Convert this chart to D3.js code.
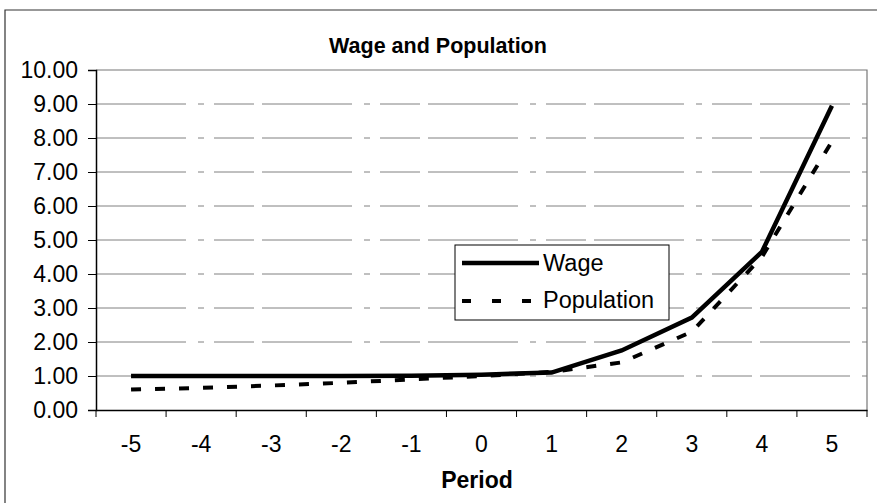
<!DOCTYPE html>
<html><head><meta charset="utf-8">
<script src="https://cdn.jsdelivr.net/npm/d3@7"></script>
<style>body{margin:0;background:#fff}svg{display:block;font-family:Arial,"Liberation Sans",sans-serif}</style>
</head><body><svg id="c" width="877" height="503"></svg>
<script>
const periods = [-5,-4,-3,-2,-1,0,1,2,3,4,5];
const wage = [1.00,1.00,1.00,1.00,1.01,1.04,1.10,1.75,2.72,4.65,8.95];
const population = [0.60,0.65,0.72,0.80,0.90,1.00,1.12,1.40,2.30,4.50,7.90];
const yTicks = [0,1,2,3,4,5,6,7,8,9,10];
const title = "Wage and Population";
const xTitle = "Period";
const legendLabels = ["Wage","Population"];

const svg = d3.select("#c");
const m = {l:96, r:867, t:70, b:410};
const x = d3.scaleBand().domain(periods).range([m.l, m.r]);
const y = d3.scaleLinear().domain([0,10]).range([m.b, m.t]);

// outer frame
svg.append("path").attr("d","M5,503 V10 H877").attr("fill","none").attr("stroke","#333").attr("stroke-width",1.2);

// gridlines
svg.append("g").selectAll("line").data(yTicks.filter(d=>d>0&&d<10)).join("line")
  .attr("x1",m.l).attr("x2",m.r).attr("y1",d=>y(d)).attr("y2",d=>y(d))
  .attr("stroke","#808080").attr("stroke-width",1).attr("stroke-dasharray","90,12,6,10,40,8");

// plot border top/right
svg.append("path").attr("d",`M${m.l},${m.t} H${m.r} V${m.b}`).attr("fill","none").attr("stroke","#777").attr("stroke-width",1.2);

// y axis
const ya = svg.append("g").attr("transform",`translate(${m.l},0)`)
  .call(d3.axisLeft(y).tickValues(yTicks).tickFormat(d3.format(".2f")).tickSize(8).tickPadding(10));
ya.select(".domain").attr("stroke","#000").attr("stroke-width",1.5);
ya.selectAll("text").attr("font-size",23).attr("fill","#000").attr("font-family","Arial, Liberation Sans, sans-serif");

// x axis
const xa = svg.append("g").attr("transform",`translate(0,${m.b})`)
  .call(d3.axisBottom(x).tickSize(0).tickPadding(26));
xa.select(".domain").attr("stroke","#000").attr("stroke-width",1.5);
xa.selectAll("text").attr("font-size",23).attr("fill","#000").attr("font-family","Arial, Liberation Sans, sans-serif");
svg.append("g").selectAll("line").data(d3.range(periods.length+1)).join("line")
  .attr("x1",i=>m.l+i*x.step()).attr("x2",i=>m.l+i*x.step())
  .attr("y1",m.b).attr("y2",m.b+7).attr("stroke","#000").attr("stroke-width",1);

// lines
const line = d3.line().x((d,i)=>x(periods[i])+x.bandwidth()/2).y(d=>y(d));
svg.append("path").datum(population).attr("d",line).attr("fill","none")
  .attr("stroke","#000").attr("stroke-width",4).attr("stroke-dasharray","10,14");
svg.append("path").datum(wage).attr("d",line).attr("fill","none")
  .attr("stroke","#000").attr("stroke-width",4.5);

// legend
const lg = svg.append("g");
lg.append("rect").attr("x",455).attr("y",245).attr("width",214).attr("height",75).attr("fill","#fff").attr("stroke","#000").attr("stroke-width",1);
lg.append("line").attr("x1",462).attr("x2",539).attr("y1",263).attr("y2",263).attr("stroke","#000").attr("stroke-width",4.5);
lg.append("line").attr("x1",462).attr("x2",539).attr("y1",301).attr("y2",301).attr("stroke","#000").attr("stroke-width",4).attr("stroke-dasharray","9,21");
lg.append("text").attr("x",543).attr("y",271).attr("font-size",23.5).text(legendLabels[0]);
lg.append("text").attr("x",543).attr("y",308).attr("font-size",23.5).text(legendLabels[1]);

// titles
svg.append("text").attr("x",438).attr("y",53).attr("text-anchor","middle").attr("font-size",21.5).attr("font-weight","bold").text(title);
svg.append("text").attr("x",477).attr("y",488).attr("text-anchor","middle").attr("font-size",23).attr("font-weight","bold").text(xTitle);
</script></body></html>
